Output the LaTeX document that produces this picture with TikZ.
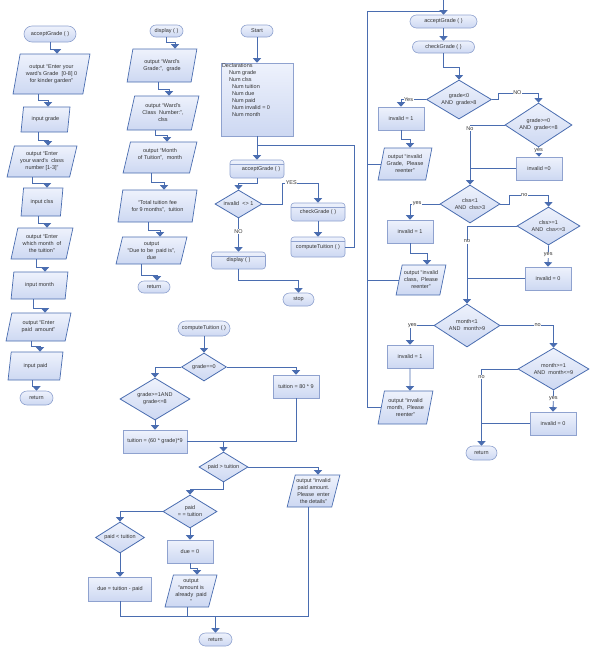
\documentclass[tikz,border=0pt]{standalone}
\usepackage{fontspec}
\setmainfont{Liberation Sans}
\usetikzlibrary{shapes.geometric,shapes.misc,arrows.meta,calc}
\definecolor{ln}{HTML}{4A6DB0}
\definecolor{bd}{HTML}{8FA2CF}
\definecolor{fb}{HTML}{CDD8F2}
\definecolor{ft}{HTML}{EEF2FC}
\definecolor{tx}{HTML}{333333}
\tikzset{
  base/.style={font=\fontsize{5.5}{7}\selectfont, text=tx, align=center, inner sep=0pt, top color=ft, bottom color=fb, line width=0.6pt},
  term/.style={base, rounded rectangle, draw=bd},
  proc/.style={base, rectangle, draw=bd},
  io/.style={base, trapezium, trapezium left angle=73, trapezium right angle=107, trapezium stretches=true, draw=ln, line width=0.7pt},
  dec/.style={base, diamond, aspect=1.6, draw=ln, line width=0.8pt},
  sub/.style={base, rectangle, rounded corners=3pt, draw=bd, path picture={\draw[bd,line width=0.5pt] ([yshift=-4pt]path picture bounding box.north west) -- ([yshift=-4pt]path picture bounding box.north east);}},
  line/.style={draw=ln, line width=0.8pt},
  arr/.style={line, -{Triangle[width=8pt,length=4.5pt]}},
  lbl/.style={font=\fontsize{5.5}{7}\selectfont, text=tx, fill=white, inner sep=0.5pt},
  wh/.style 2 args={minimum width=#1pt, minimum height=#2pt},
}
\begin{document}
\begin{tikzpicture}[x=1pt,y=-1pt]
\useasboundingbox[fill=white] (0,0) rectangle (590,649);
% ---------- column 1: acceptGrade
\node[term,wh={52}{16}] (L0) at (50,34) {acceptGrade ( )};
\node[io,wh={77}{40}] (L1) at (51.5,74) {output “Enter your\\ward's Grade \ [0-8] 0\\for kinder garden”};
\node[io,wh={49}{25}] (L2) at (45.5,119.5) {input grade};
\node[io,wh={70}{31}] (L3) at (42,161.5) {output “Enter\\your ward's \ class\\number [1-3]”};
\node[io,wh={42}{28}] (L4) at (42,202) {input clss};
\node[io,wh={62}{31}] (L5) at (42,243.5) {output “Enter\\which month \ of\\the tuition”};
\node[io,wh={57}{27}] (L6) at (39.5,285.5) {input month};
\node[io,wh={65}{28}] (L7) at (38.5,327) {output “Enter\\paid \ amount”};
\node[io,wh={55}{28}] (L8) at (35.5,366) {input paid};
\node[term,wh={33}{14}] (L9) at (36.5,398) {return};
\draw[arr] (L0.south) -- ++(0,7) -| ([xshift=5.5pt]L1.north);
\draw[arr] ([xshift=-13.5pt]L1.south) -- ++(0,6) -| ([xshift=2.5pt]L2.north);
\draw[arr] ([xshift=-7.5pt]L2.south) -- ++(0,8) -| ([xshift=6pt]L3.north);
\draw[arr] ([xshift=-10pt]L3.south) -- ++(0,6) -| ([xshift=5pt]L4.north);
\draw[arr] ([xshift=-4pt]L4.south) -- ++(0,7) -| ([xshift=5pt]L5.north);
\draw[arr] ([xshift=-6pt]L5.south) -- ++(0,8) -| ([xshift=5.5pt]L6.north);
\draw[arr] ([xshift=-6.5pt]L6.south) -- ++(0,9) -| ([xshift=6.5pt]L7.north);
\draw[arr] ([xshift=-7.5pt]L7.south) -- ++(0,5) -| ([xshift=4.5pt]L8.north);
\draw[arr] ([xshift=-3.5pt]L8.south) -- ++(0,6) -| (L9.north);
% ---------- column 2: display
\node[term,wh={33}{12}] (D0) at (166.5,31) {display ( )};
\node[io,wh={70}{33}] (D1) at (162,65.5) {output “Ward's\\Grade:”, \ grade};
\node[io,wh={72}{34}] (D2) at (163,113) {output “Ward's\\Class \ Number:”,\\clss};
\node[io,wh={74}{31}] (D3) at (160,157.5) {output “Month\\of Tuition”, \ month\\\mbox{}};
\node[io,wh={79}{32}] (D4) at (157.5,206) {“Total tuition fee\\for 9 months”, \ tuition};
\node[io,wh={71}{27}] (D5) at (151.5,250.5) {output\\“Due to be \ paid is”,\\due};
\node[term,wh={32}{12}] (D6) at (154,287) {return};
\draw[arr] (D0.south) -- ++(0,5) -| ([xshift=13pt]D1.north);
\draw[arr] ([xshift=-4pt]D1.south) -- ++(0,7) -| ([xshift=6pt]D2.north);
\draw[arr] ([xshift=-8pt]D2.south) -- ++(0,5) -| ([xshift=7pt]D3.north);
\draw[arr] ([xshift=-9pt]D3.south) -- ++(0,9) -| ([xshift=6.5pt]D4.north);
\draw[arr] ([xshift=-9.5pt]D4.south) -- ++(0,8) -| ([xshift=8.5pt]D5.north);
\draw[arr] ([xshift=-10.5pt]D5.south) -- ++(0,11) -| ([xshift=3pt]D6.north);
% ---------- main
\node[term,wh={32}{12}] (M0) at (257,31) {Start};
\node[proc,wh={72}{73}] (M1) at (257,99.5) {\parbox[t][71pt][t]{70pt}{\raggedright Declarations\\
\hspace*{7pt}Num grade\\
\hspace*{7pt}Num clss\\
\hspace*{10pt}Num tuition\\
\hspace*{10pt}Num due\\
\hspace*{10pt}Num paid\\
\hspace*{10pt}Num invalid = 0\\
\hspace*{10pt}Num month}};
\node[sub,wh={54}{18}] (M2) at (257,169) {\raisebox{-1.5pt}{\hspace*{8pt}acceptGrade ( )}};
\node[dec,wh={47}{28}] (M3) at (238.5,204) {invalid \ <> 1};
\node[sub,wh={54}{18}] (M4) at (318,212) {\raisebox{-1.5pt}{checkGrade ( )}};
\node[sub,wh={54}{20}] (M5) at (318,247) {\raisebox{-1.5pt}{computeTuition ( )}};
\node[sub,wh={54}{17}] (M6) at (238.5,260.5) {\raisebox{-1.5pt}{display ( )}};
\node[term,wh={31}{13}] (M7) at (298.5,299.5) {stop};
\coordinate (J1) at (257,145);
\draw[arr] (M0.south) -- (M1.north);
\draw[arr] (M1.south) -- (M2.north);
\draw[line] (M5.east) -- ++(9,0) |- (J1);
\draw[arr] (M2.south) -- ++(0,5) -| (M3.north);
\draw[arr] (M3.east) -- ++(20,0) -- ++(0,-21) -| node[lbl,pos=0.125]{YES} (M4.north);
\draw[arr] (M4.south) -- (M5.north);
\draw[arr] (M3.south) -- node[lbl,pos=0.4]{NO} (M6.north);
\draw[arr] (M6.south) -- ++(0,11) -| (M7.north);
% ---------- right: checkGrade
\node[term,wh={67}{13}] (R0) at (443.5,21.5) {acceptGrade ( )};
\node[term,wh={62}{12}] (R1) at (443.5,47) {checkGrade ( )};
\node[dec,wh={65}{39}] (RD1) at (459,99.5) {grade<0\\AND \ grade>8};
\node[proc,wh={46}{23}] (RP1) at (401,118.5) {invalid = 1};
\node[io,wh={54}{32}] (RO1) at (405,164) {output “invalid\\Grade, \ Please\\reenter”};
\node[dec,wh={67}{44}] (RD2) at (538.5,125) {grade>=0\\AND \ grade<=8};
\node[proc,wh={46}{23}] (RP2) at (539,168.5) {invalid =0};
\node[dec,wh={60}{38}] (RD3) at (470,204) {clss<1\\AND \ clss>3};
\node[proc,wh={46}{23}] (RP3) at (410,231.5) {invalid = 1};
\node[io,wh={50}{30}] (RO3) at (421,280) {output “invalid\\class, \ Please\\reenter”};
\node[dec,wh={63}{38}] (RD4) at (548.5,226) {clss>=1\\AND \ clss<=3};
\node[proc,wh={46}{23}] (RP4) at (548,278.5) {invalid = 0};
\node[dec,wh={66}{43}] (RD5) at (467,325.5) {month<1\\AND \ month>9};
\node[proc,wh={46}{23}] (RP5) at (410,356.5) {invalid = 1};
\node[io,wh={55}{33}] (RO5) at (405.5,407.5) {output “invalid\\month, \ Please\\reenter”};
\node[dec,wh={71}{42}] (RD6) at (553.5,369) {month>=1\\AND \ month<=9};
\node[proc,wh={46}{23}] (RP6) at (553,423.5) {invalid = 0};
\node[term,wh={31}{14}] (RR) at (481.5,453) {return};
\coordinate (Rin) at (443.5,0);
\coordinate (LT) at (367,11);
\coordinate (J2) at (443.5,11);
\draw[arr] (Rin) -- (R0.north);
\draw[arr] (R0.south) -- (R1.north);
\draw[arr] (R1.south) -- ++(0,14) -| (RD1.north);
\draw[arr] (RD1.west) -| node[lbl,pos=0.35]{Yes} (RP1.north);
\draw[arr] (RP1.south) -- ++(0,9) -| ([xshift=5pt]RO1.north);
\draw[arr] (RD1.east) -- ++(6,0) -- ++(0,-6.5) -| node[lbl,pos=0.24]{NO} (RD2.north);
\draw[arr] (RD2.west) -| node[lbl,pos=0.53]{No} (RD3.north);
\draw[arr] (RD2.south) -- node[lbl,pos=0.3]{yes} (RP2.north);
\draw[line] (RP2.west) -- (RP2.west -| RD3.north);
\draw[arr] (RD3.west) -| node[lbl,pos=0.38]{yes} (RP3.north);
\draw[arr] (RP3.south) -- ++(0,10) -| ([xshift=6pt]RO3.north);
\draw[arr] (RD3.east) -- ++(9,0) -- ++(0,-9) -| node[lbl,pos=0.19]{no} (RD4.north);
\draw[arr] (RD4.west) -| node[lbl,pos=0.6]{no} (RD5.north);
\draw[arr] (RD4.south) -- node[lbl,pos=0.45]{yes} (RP4.north);
\draw[line] (RP4.west) -- (RP4.west -| RD5.north);
\draw[arr] (RD5.west) -| node[lbl,pos=0.45]{yes} (RP5.north);
\draw[arr] (RP5.south) -- ([xshift=4.5pt]RO5.north);
\draw[arr] (RD5.east) -| node[lbl,pos=0.35]{no} (RD6.north);
\draw[arr] (RD6.west) -| node[lbl,pos=0.55]{no} (RR.north);
\draw[arr] (RD6.south) -- node[lbl,pos=0.4]{yes} (RP6.north);
\draw[line] (RP6.west) -- (RP6.west -| RR.north);
\draw[line] (RO5.west) -| (LT) -- (J2);
\draw[line] (RO1.west) -- (RO1.west -| LT);
\draw[line] (RO3.west) -- (RO3.west -| LT);
% ---------- bottom: computeTuition
\node[term,wh={52}{15}] (C0) at (204,328.5) {computeTuition ( )};
\node[dec,wh={45}{28}] (C1) at (204,367) {grade==0};
\node[dec,wh={70}{42}] (C2) at (155,399) {grade>=1AND\\grade<=8};
\node[proc,wh={64}{23}] (C3) at (155,441.5) {tuition = (60 * grade)*9};
\node[proc,wh={46}{23}] (C4) at (296,386.5) {tuition = 80 * 9};
\node[dec,wh={49}{30}] (C5) at (223.5,467) {paid > tuition};
\node[io,wh={53}{32}] (C6) at (313.5,491) {output “invalid\\paid amount.\\Please \ enter\\the details”};
\node[dec,wh={54}{33}] (C7) at (190,511.5) {paid\\= = tuition};
\node[dec,wh={49}{31}] (C8) at (120,537.5) {paid < tuition};
\node[proc,wh={63}{24}] (C9) at (120,589) {due = tuition - paid};
\node[proc,wh={46}{23}] (C10) at (190,551.5) {due = 0};
\node[io,wh={52}{32}] (C11) at (191,591) {output\\“amount is\\already \ paid\\”};
\node[term,wh={33}{13}] (C12) at (215.5,639.5) {return};
\coordinate (J3) at (C5.north |- C3.east);
\coordinate (J4) at ([yshift=16.5pt]C12.north);
\draw[arr] (C0.south) -- (C1.north);
\draw[arr] (C1.west) -| (C2.north);
\draw[arr] (C1.east) -| (C4.north);
\draw[arr] (C2.south) -- (C3.north);
\draw[line] (C4.south) |- (C3.east);
\draw[arr] (J3) -- (C5.north);
\draw[arr] (C5.east) -| ([xshift=4.5pt]C6.north);
\draw[arr] (C5.south) -- ++(0,7) -| (C7.north);
\draw[arr] (C7.west) -| (C8.north);
\draw[arr] (C8.south) -- (C9.north);
\draw[arr] (C7.south) -- (C10.north);
\draw[arr] (C10.south) -- ++(0,5) -| ([xshift=6pt]C11.north);
\draw[line] (C9.south) |- (J4);
\draw[line] ([xshift=-5.5pt]C6.south) |- (J4);
\draw[line] ([xshift=-4pt]C11.south) -- ([xshift=-4pt]C11.south |- J4);
\draw[arr] (J4) -- (C12.north);
\end{tikzpicture}
\end{document}
